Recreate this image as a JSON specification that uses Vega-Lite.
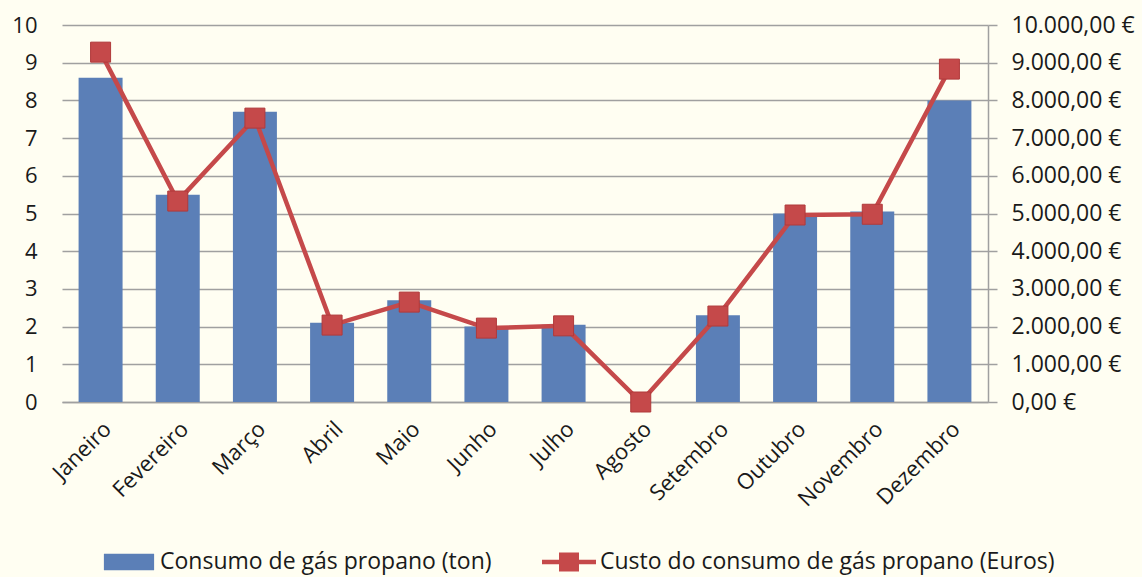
{
  "$schema": "https://vega.github.io/schema/vega-lite/v6.json",
  "width": 926,
  "height": 377,
  "autosize": {"type": "none"},
  "padding": {"left": 62, "top": 25, "right": 154, "bottom": 175},
  "background": "#FFFEF2",
  "config": {
    "view": {"stroke": null},
    "font": "Open Sans",
    "axis": {"labelFont": "Open Sans", "labelFontSize": 22, "labelColor": "#1a1a1a"}
  },
  "data": {
    "values": [
      {"mes": "Janeiro", "ton": 8.6, "euros": 9280},
      {"mes": "Fevereiro", "ton": 5.5, "euros": 5330},
      {"mes": "Março", "ton": 7.7, "euros": 7530},
      {"mes": "Abril", "ton": 2.1, "euros": 2040},
      {"mes": "Maio", "ton": 2.7, "euros": 2650},
      {"mes": "Junho", "ton": 2.0, "euros": 1960},
      {"mes": "Julho", "ton": 2.05, "euros": 2020},
      {"mes": "Agosto", "ton": 0, "euros": 0},
      {"mes": "Setembro", "ton": 2.3, "euros": 2280},
      {"mes": "Outubro", "ton": 5.0, "euros": 4960},
      {"mes": "Novembro", "ton": 5.05, "euros": 4980},
      {"mes": "Dezembro", "ton": 8.0, "euros": 8830}
    ]
  },
  "encoding": {
    "x": {
      "field": "mes",
      "type": "nominal",
      "sort": null,
      "title": null,
      "scale": {"paddingInner": 0.43, "paddingOuter": 0.215},
      "axis": {"labelAngle": -45, "domainColor": "#a0a0a0", "domainWidth": 1.5, "ticks": false, "labelPadding": 16}
    }
  },
  "layer": [
    {
      "mark": {"type": "bar", "color": "#5B7FB7"},
      "encoding": {
        "y": {
          "field": "ton",
          "type": "quantitative",
          "title": null,
          "scale": {"domain": [0, 10], "nice": false},
          "axis": {"values": [0,1,2,3,4,5,6,7,8,9,10], "domain": false, "ticks": false, "labelPadding": 25, "labelOverlap": false, "gridColor": "#a0a0a0", "gridWidth": 1.5}
        },
        "color": {
          "datum": "Consumo de gás propano (ton)",
          "type": "nominal",
          "scale": {
            "domain": ["Consumo de gás propano (ton)", "Custo do consumo de gás propano (Euros)"],
            "range": ["#5B7FB7", "#C5494A"]
          },
          "legend": {
            "title": null,
            "orient": "none",
            "legendX": 40,
            "legendY": 510,
            "direction": "horizontal",
            "symbolSize": 2916,
            "symbolStrokeWidth": 0,
            "symbolOpacity": 1,
            "labelFontSize": 23,
            "labelFont": "Open Sans",
            "labelColor": "#1a1a1a",
            "labelLimit": 500,
            "labelOffset": 4,
            "columnPadding": 50
          }
        }
      }
    },
    {
      "encoding": {
        "y": {
          "field": "euros",
          "type": "quantitative",
          "title": null,
          "scale": {"domain": [0, 10000], "nice": false},
          "axis": {
            "orient": "right",
            "values": [0,1000,2000,3000,4000,5000,6000,7000,8000,9000,10000],
            "grid": false,
            "labelOverlap": false,
            "labelFontSize": 23,
            "domainColor": "#a0a0a0",
            "domainWidth": 1.5,
            "tickColor": "#a0a0a0",
            "tickWidth": 1.5,
            "tickSize": 9,
            "labelPadding": 14,
            "labelExpr": "replace(replace(replace(format(datum.value, ',.2f'), ',', '_'), '.', ','), '_', '.') + ' €'"
          }
        }
      },
      "layer": [
        {
          "mark": {"type": "line", "color": "#C5494A", "strokeWidth": 4.5}
        },
        {
          "mark": {"type": "point", "shape": "square", "filled": true, "opacity": 1, "size": 400, "color": "#C5494A", "stroke": "#B03A3B", "strokeWidth": 1}
        },
        {
          "mark": {"type": "point", "filled": true, "opacity": 0, "size": 10},
          "encoding": {
            "color": {"datum": "Custo do consumo de gás propano (Euros)", "type": "nominal"},
            "shape": {
              "datum": "Custo do consumo de gás propano (Euros)",
              "type": "nominal",
              "scale": {
                "domain": ["Consumo de gás propano (ton)", "Custo do consumo de gás propano (Euros)"],
                "range": ["M-0.93,-0.31H0.93V0.31H-0.93Z", "M-1,-0.08H1V0.08H-1Z M-0.37,-0.35H0.37V0.35H-0.37Z"]
              },
              "legend": {"title": null, "symbolOpacity": 1}
            }
          }
        }
      ]
    }
  ],
  "resolve": {"scale": {"y": "independent"}}
}
